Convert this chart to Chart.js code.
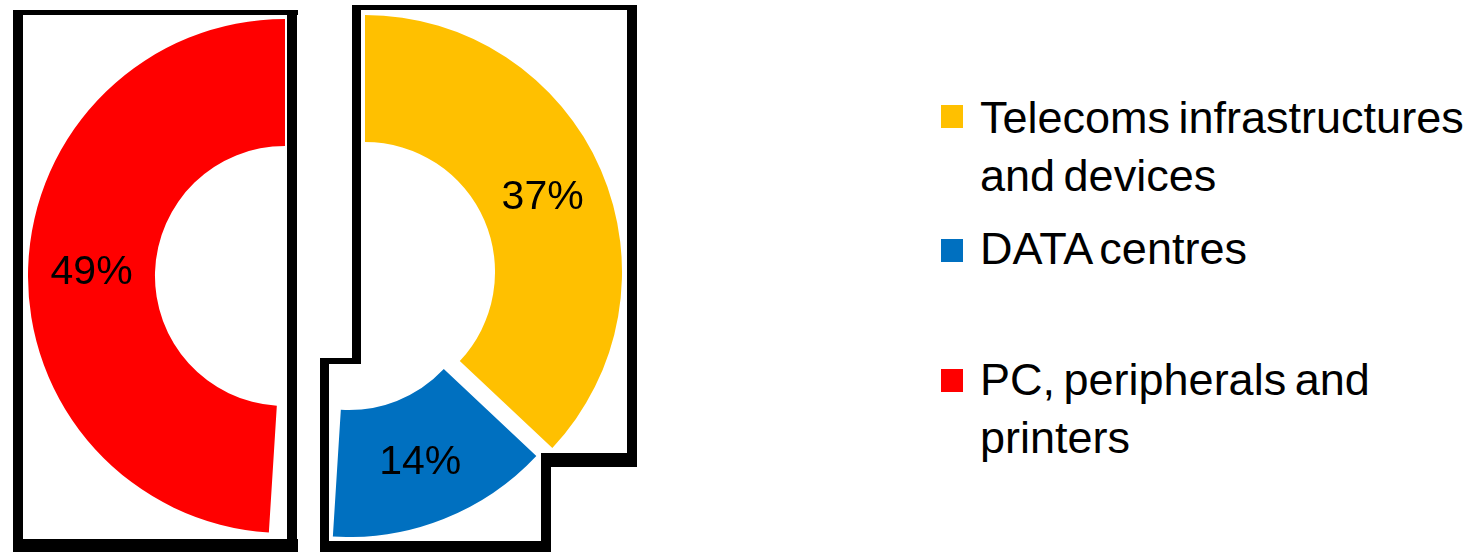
<!DOCTYPE html>
<html>
<head>
<meta charset="utf-8">
<script src="https://cdn.jsdelivr.net/npm/chart.js@4.4.1/dist/chart.umd.min.js"></script>
<style>
  html, body { margin: 0; padding: 0; background: #fff; }
  body { width: 1474px; height: 552px; overflow: hidden; position: relative; font-family: "Liberation Sans", Arial, sans-serif; }
  .b { position: absolute; background: #000; }
  canvas.pie { position: absolute; }
  .sw { position: absolute; width: 22px; height: 23px; }
  .lt { position: absolute; left: 980px; font-size: 45px; line-height: 58px; color: #000; white-space: nowrap; word-spacing: -4px; }
</style>
</head>
<body>
<!-- left frame -->
<div class="b" style="left:13px;top:10px;width:285px;height:5px"></div>
<div class="b" style="left:13px;top:10px;width:10px;height:542px"></div>
<div class="b" style="left:287px;top:10px;width:10px;height:542px"></div>
<div class="b" style="left:13px;top:539px;width:285px;height:13px"></div>
<!-- right frame -->
<div class="b" style="left:352px;top:5px;width:285px;height:5px"></div>
<div class="b" style="left:627px;top:5px;width:10px;height:462px"></div>
<div class="b" style="left:541px;top:453px;width:96px;height:14px"></div>
<div class="b" style="left:541px;top:453px;width:10px;height:99px"></div>
<div class="b" style="left:320px;top:541px;width:231px;height:11px"></div>
<div class="b" style="left:320px;top:358px;width:9px;height:194px"></div>
<div class="b" style="left:320px;top:358px;width:41px;height:6px"></div>
<div class="b" style="left:352px;top:5px;width:9px;height:359px"></div>

<canvas id="cRed" class="pie" width="514" height="514" style="left:28px;top:19px"></canvas>
<canvas id="cYel" class="pie" width="514" height="514" style="left:108px;top:15px"></canvas>
<canvas id="cBlu" class="pie" width="514" height="514" style="left:92px;top:23px"></canvas>

<div id="legend"></div>

<script>
// ---- data ----
const categories = ['Telecoms infrastructures and devices', 'DATA centres', 'PC, peripherals and printers'];
const shares = [37, 14, 49];
const legendLines = [['Telecoms infrastructures', 'and devices'], ['DATA centres'], ['PC, peripherals and', 'printers']];

// ---- styles ----
const segColors = ['#FFC000', '#0070C0', '#FF0000'];
const legendTops = [89, 220, 351];
const swatchTops = [105, 239, 369];

const labelPlugin = {
  id: 'pctLabels',
  afterDatasetsDraw(chart) {
    const ctx = chart.ctx;
    const meta = chart.getDatasetMeta(0);
    const shown = chart.options.plugins.pctLabels.shown;
    ctx.save();
    ctx.font = '41px "Liberation Sans", Arial, sans-serif';
    ctx.fillStyle = '#000';
    ctx.textAlign = 'center';
    ctx.textBaseline = 'middle';
    meta.data.forEach((arc, i) => {
      if (i !== shown) return;
      const p = arc.tooltipPosition();
      ctx.fillText(shares[i] + '%', p.x, p.y + 3);
    });
    ctx.restore();
  }
};

function makePiece(id, shown) {
  new Chart(document.getElementById(id), {
    type: 'doughnut',
    data: {
      labels: categories,
      datasets: [{
        data: shares,
        backgroundColor: segColors.map((c, i) => i === shown ? c : 'rgba(0,0,0,0)'),
        borderWidth: 0,
        hoverOffset: 0
      }]
    },
    options: {
      responsive: false,
      animation: false,
      events: [],
      cutout: '50.6%',
      layout: { padding: 0 },
      plugins: {
        legend: { display: false },
        tooltip: { enabled: false },
        pctLabels: { shown: shown }
      }
    },
    plugins: [labelPlugin]
  });
}

makePiece('cRed', 2);
makePiece('cYel', 0);
makePiece('cBlu', 1);

// ---- legend ----
const lg = document.getElementById('legend');
categories.forEach((cat, i) => {
  const sw = document.createElement('div');
  sw.className = 'sw';
  sw.style.left = '941px';
  sw.style.top = swatchTops[i] + 'px';
  sw.style.background = segColors[i];
  lg.appendChild(sw);
  legendLines[i].forEach((line, j) => {
    const t = document.createElement('div');
    t.className = 'lt';
    t.style.top = (legendTops[i] + j * 58) + 'px';
    t.textContent = line;
    lg.appendChild(t);
  });
});
</script>
</body>
</html>
